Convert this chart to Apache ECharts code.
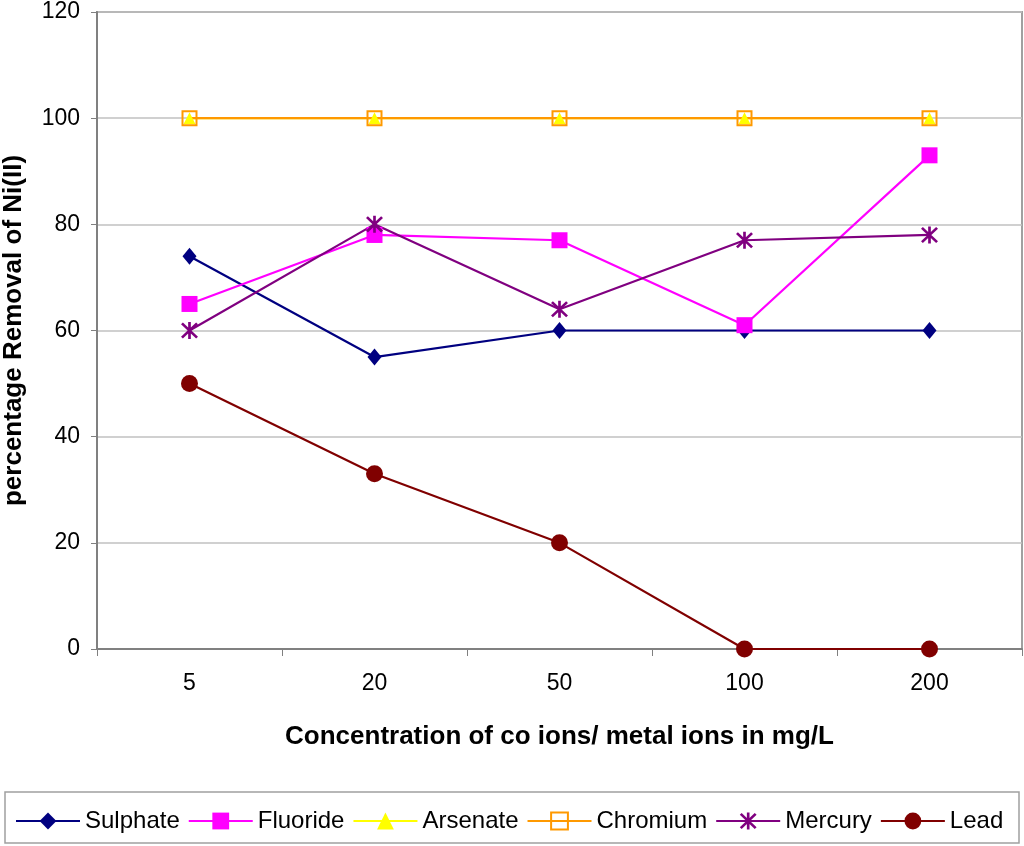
<!DOCTYPE html>
<html>
<head>
<meta charset="utf-8">
<script src="https://cdn.jsdelivr.net/npm/echarts@6/dist/echarts.min.js"></script>
<style>
  html, body { margin: 0; padding: 0; background: #fff; }
  #chart { width: 1024px; height: 846px; }
</style>
</head>
<body>
<div id="chart"></div>
<script>
var categories = ['5', '20', '50', '100', '200'];
var sulphate = [74, 55, 60, 60, 60];
var fluoride = [65, 78, 77, 61, 93];
var arsenate = [100, 100, 100, 100, 100];
var chromium = [100, 100, 100, 100, 100];
var mercury = [60, 80, 64, 77, 78];
var lead = [50, 33, 20, 0, 0];

// asterisk marker (X plus vertical bar)
var asterisk = 'path://M8.5 0L11.5 0L11.5 20L8.5 20Z' +
  'M0.5 2.6L2.6 0.5L19.5 17.4L17.4 19.5Z' +
  'M17.4 0.5L19.5 2.6L2.6 19.5L0.5 17.4Z';

var font = 'Liberation Sans, Arial, sans-serif';

function line(name, data, color, symbol, size, extra) {
  var s = {
    name: name,
    type: 'line',
    data: data,
    symbol: symbol,
    symbolSize: size,
    showAllSymbol: true,
    lineStyle: {color: color, width: 2.2},
    itemStyle: {color: color},
    emphasis: {disabled: true},
    animation: false
  };
  if (extra) {
    for (var k in extra) s[k] = extra[k];
  }
  return s;
}

var option = {
  backgroundColor: '#fff',
  textStyle: {fontFamily: font},
  grid: {
    left: 97,
    right: 2,
    top: 12,
    bottom: 197,
    containLabel: false,
    outerBoundsMode: 'none',
    show: true,
    borderColor: '#a0a0a0',
    borderWidth: 2
  },
  legend: {
    left: 10,
    top: 804,
    itemWidth: 64,
    itemHeight: 21,
    itemGap: 8,
    textStyle: {fontSize: 24, color: '#000', fontFamily: font},
    data: ['Sulphate', 'Fluoride', 'Arsenate', 'Chromium', 'Mercury', 'Lead']
  },
  graphic: [{
    type: 'rect',
    shape: {x: 5, y: 792, width: 1014, height: 51},
    style: {fill: 'none', stroke: '#a0a0a0', lineWidth: 1.5}
  }],
  xAxis: {
    type: 'category',
    data: categories,
    boundaryGap: true,
    name: 'Concentration of co ions/ metal ions in mg/L',
    nameLocation: 'middle',
    nameGap: 75,
    nameTextStyle: {fontSize: 26, fontWeight: 'bold', color: '#000', fontFamily: font},
    axisLine: {lineStyle: {color: '#808080', width: 2}},
    axisTick: {show: true, length: 7, lineStyle: {color: '#808080'}},
    axisLabel: {fontSize: 23, color: '#000', margin: 23, fontFamily: font},
    splitLine: {show: false}
  },
  yAxis: {
    type: 'value',
    min: 0,
    max: 120,
    interval: 20,
    name: 'percentage Removal of Ni(II)',
    nameLocation: 'middle',
    nameGap: 70,
    nameTextStyle: {fontSize: 26, fontWeight: 'bold', color: '#000', fontFamily: font},
    axisLine: {show: true, lineStyle: {color: '#808080', width: 2}},
    axisTick: {show: true, length: 6, lineStyle: {color: '#808080'}},
    axisLabel: {fontSize: 23, color: '#000', margin: 17, fontFamily: font},
    splitLine: {lineStyle: {color: '#c0c0c0', width: 1.5}}
  },
  series: [
    line('Sulphate', sulphate, '#000080', 'diamond', [14, 17]),
    line('Fluoride', fluoride, '#FF00FF', 'rect', 16),
    line('Arsenate', arsenate, '#FFFF00', 'triangle', 12),
    line('Chromium', chromium, '#FF9900', 'rect', 14, {
      itemStyle: {color: 'rgba(255,255,255,0)', borderColor: '#FF9900', borderWidth: 2}
    }),
    line('Mercury', mercury, '#800080', asterisk, 17),
    line('Lead', lead, '#800000', 'circle', 17)
  ]
};

var chart = echarts.init(document.getElementById('chart'));
chart.setOption(option);
</script>
</body>
</html>
